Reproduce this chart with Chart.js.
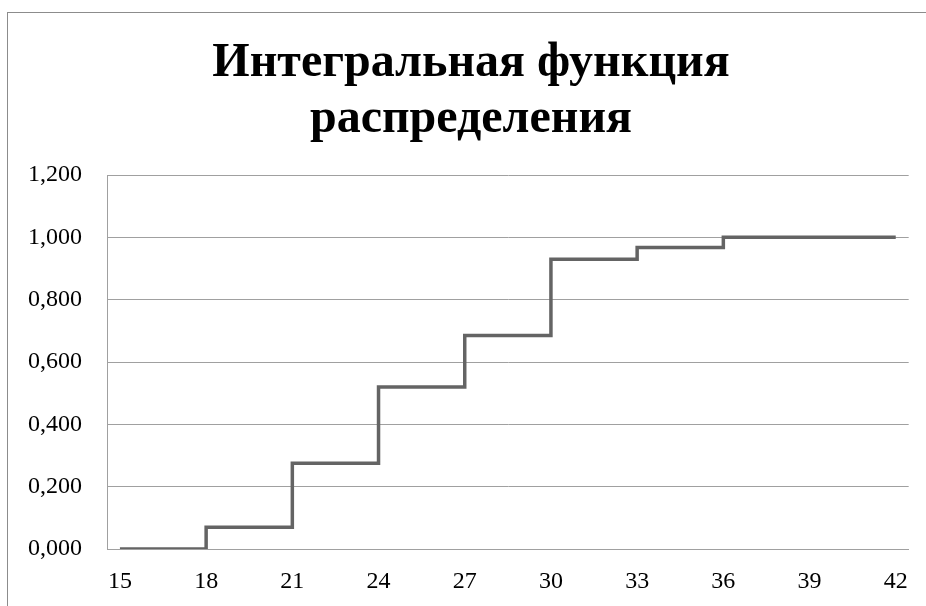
<!DOCTYPE html>
<html>
<head>
<meta charset="utf-8">
<script src="https://cdn.jsdelivr.net/npm/chart.js@4"></script>
<style>
	html, body { margin: 0; padding: 0; background: #fff; overflow: hidden; }
	#wrap { position: relative; width: 926px; height: 606px; }
	#frame {
		position: absolute; left: 7px; top: 12px; width: 1000px; height: 700px;
		border: 1px solid #8c8c8c; pointer-events: none;
	}
	canvas { position: absolute; left: 0; top: 0; }
</style>
</head>
<body>
<div id="wrap">
	<canvas id="cdf" width="926" height="606"></canvas>
	<div id="frame"></div>
</div>
<script>
//Integral distribution function

const titleLines = ["Интегральная функция", "распределения"];
const xValues = [15, 18, 21, 24, 27, 30, 33, 36, 42];
const cdfValues = [0, 0.07, 0.275, 0.52, 0.685, 0.93, 0.967, 1.0, 1.0];
const xTicks = [15, 18, 21, 24, 27, 30, 33, 36, 39, 42];
const yTicks = [0, 0.2, 0.4, 0.6, 0.8, 1.0, 1.2];

const serif = "'Liberation Serif', 'Times New Roman', serif";

// title sits a bit right of the canvas centre, so draw it by hand
const titlePlugin = {
	id: "cdfTitle",
	afterDraw(chart) {
		const ctx = chart.ctx;
		ctx.save();
		ctx.fillStyle = "#000";
		ctx.font = "bold 48px " + serif;
		ctx.textAlign = "center";
		ctx.textBaseline = "middle";
		ctx.fillText(titleLines[0], 471, 64);
		ctx.fillText(titleLines[1], 471, 120);
		ctx.restore();
	},
};

const cdfData = {
	datasets: [
		{
			label: "F(x)",
			data: xValues.map((x, i) => ({ x: x, y: cdfValues[i] })),
			borderColor: "rgb(100, 100, 100)",
			borderWidth: 3.5,
			pointRadius: 0,
			stepped: "before",
			fill: false,
		},
	],
};

const cdfConfig = {
	type: "line",
	data: cdfData,
	plugins: [titlePlugin],
	options: {
		responsive: false,
		animation: false,
		layout: { padding: { left: 0, right: 16, top: 175, bottom: 17 } },
		plugins: {
			legend: { display: false },
			tooltip: { enabled: false },
			title: { display: false },
		},
		scales: {
			x: {
				type: "linear",
				min: 14.55,
				max: 42.45,
				afterBuildTicks: (axis) => {
					axis.ticks = xTicks.map((v) => ({ value: v }));
				},
				afterFit: (axis) => {
					axis.height = 40;
				},
				grid: { display: false, drawTicks: false },
				border: { display: true, color: "#a0a0a0", width: 1 },
				ticks: {
					color: "#000",
					font: { family: serif, size: 24 },
					padding: 18,
					maxRotation: 0,
					autoSkip: false,
				},
			},
			y: {
				min: 0,
				max: 1.2,
				afterBuildTicks: (axis) => {
					axis.ticks = yTicks.map((v) => ({ value: v }));
				},
				afterFit: (axis) => {
					axis.width = 107;
				},
				grid: { color: "#a0a0a0", lineWidth: 1, drawTicks: false },
				border: { display: true, color: "#a0a0a0", width: 1 },
				ticks: {
					color: "#000",
					font: { family: serif, size: 24 },
					padding: 25,
					callback: (v) => v.toFixed(3).replace(".", ","),
				},
			},
		},
	},
};

const CdfChart = new Chart(document.getElementById("cdf"), cdfConfig);
</script>
</body>
</html>
